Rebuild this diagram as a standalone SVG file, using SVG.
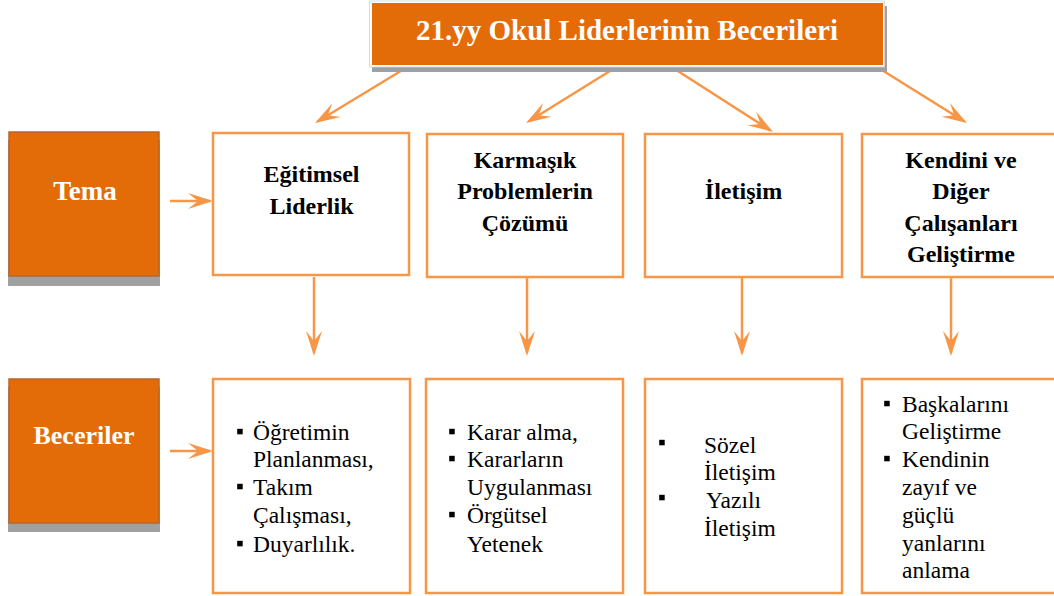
<svg xmlns="http://www.w3.org/2000/svg" width="1054" height="596" viewBox="0 0 1054 596">
<style>
.box{fill:#ffffff;stroke:#f79646;stroke-width:2.5}
.theme{fill:#e36c09;stroke:#b8662c;stroke-width:1.5}
.shadow{fill:#a0a0a0}
.conn{stroke:#f79646;stroke-width:2.5;fill:none;marker-end:url(#arr)}
.hd{font-weight:bold;font-size:24px;fill:#000;text-anchor:middle}
.tt{font-weight:bold;fill:#ffffff;text-anchor:middle}
.it{font-size:23.5px;fill:#000}
.bl{fill:#000}
</style>
<defs>
<marker id="arr" markerUnits="userSpaceOnUse" markerWidth="40" markerHeight="30" viewBox="-30 -12 40 24" refX="-3" refY="0" orient="auto">
<path d="M0,0 L-25,-8 L-15,0 L-25,8 Z" fill="#f79646"/>
</marker>
</defs>
<rect width="1054" height="596" fill="#ffffff"/>
<g id="connectors">
<line class="conn" x1="409" y1="66" x2="317.6" y2="121.5"/>
<line class="conn" x1="618" y1="66" x2="528.6" y2="121.5"/>
<line class="conn" x1="670" y1="66" x2="770.5" y2="130.4"/>
<line class="conn" x1="877" y1="67" x2="964.4" y2="121.5"/>
<line class="conn" x1="170" y1="201" x2="210" y2="201"/>
<line class="conn" x1="170" y1="451" x2="210" y2="451"/>
<line class="conn" x1="314" y1="277" x2="314" y2="353"/>
<line class="conn" x1="527" y1="278" x2="527" y2="353"/>
<line class="conn" x1="742" y1="278" x2="742" y2="353"/>
<line class="conn" x1="951" y1="278" x2="951" y2="353"/>
</g>
<g font-family="Liberation Serif, Times New Roman, serif">
<g id="title">
<rect class="shadow" x="372" y="6" width="515" height="66"/>
<rect x="369.5" y="1" width="515" height="66" fill="#ffffff" stroke="#d4d4d4" stroke-width="0.8"/>
<rect x="372" y="3" width="511" height="62" fill="#e36c09"/>
<text class="tt" x="627" y="40" font-size="29">21.yy Okul Liderlerinin Becerileri</text>
</g>
<g id="tema">
<rect class="shadow" x="8" y="140" width="152" height="146"/>
<rect class="theme" x="9" y="132" width="150" height="144"/>
<text class="tt" x="85" y="200" font-size="27">Tema</text>
</g>
<g id="beceriler">
<rect class="shadow" x="8" y="387" width="152" height="145"/>
<rect class="theme" x="9" y="379" width="150" height="144"/>
<text class="tt" x="84" y="444" font-size="26">Beceriler</text>
</g>
<g id="egitimsel-liderlik">
<rect class="box" x="213" y="133" width="196" height="142"/>
<text class="hd" x="311.5" y="182">Eğitimsel</text>
<text class="hd" x="311.5" y="214">Liderlik</text>
</g>
<g id="karmasik-problemler">
<rect class="box" x="427" y="134" width="196" height="143"/>
<text class="hd" x="525" y="168">Karmaşık</text>
<text class="hd" x="525" y="199">Problemlerin</text>
<text class="hd" x="525" y="231">Çözümü</text>
</g>
<g id="iletisim">
<rect class="box" x="645" y="134" width="197" height="143"/>
<text class="hd" x="743.5" y="199">İletişim</text>
</g>
<g id="kendini-gelistirme">
<rect class="box" x="862" y="134" width="198" height="143"/>
<text class="hd" x="961" y="168">Kendini ve</text>
<text class="hd" x="961" y="199">Diğer</text>
<text class="hd" x="961" y="231">Çalışanları</text>
<text class="hd" x="961" y="262">Geliştirme</text>
</g>
<g id="beceri-egitimsel">
<rect class="box" x="213" y="379" width="197" height="214"/>
<rect class="bl" x="237.2" y="428.8" width="5.5" height="5.5"/>
<rect class="bl" x="237.2" y="483.8" width="5.5" height="5.5"/>
<rect class="bl" x="237.2" y="540.8" width="5.5" height="5.5"/>
<text class="it" x="253" y="440">Öğretimin</text>
<text class="it" x="253" y="467">Planlanması,</text>
<text class="it" x="253" y="495">Takım</text>
<text class="it" x="253" y="523">Çalışması,</text>
<text class="it" x="253" y="552">Duyarlılık.</text>
</g>
<g id="beceri-karmasik">
<rect class="box" x="426" y="379" width="197" height="214"/>
<rect class="bl" x="449.2" y="428.8" width="5.5" height="5.5"/>
<rect class="bl" x="449.2" y="455.8" width="5.5" height="5.5"/>
<rect class="bl" x="449.2" y="511.8" width="5.5" height="5.5"/>
<text class="it" x="467" y="440">Karar alma,</text>
<text class="it" x="467" y="467">Kararların</text>
<text class="it" x="467" y="495">Uygulanması</text>
<text class="it" x="467" y="523">Örgütsel</text>
<text class="it" x="467" y="552">Yetenek</text>
</g>
<g id="beceri-iletisim">
<rect class="box" x="645" y="379" width="197" height="214"/>
<rect class="bl" x="659.2" y="439.8" width="5.5" height="5.5"/>
<rect class="bl" x="659.2" y="494.8" width="5.5" height="5.5"/>
<text class="it" x="704" y="453">Sözel</text>
<text class="it" x="704" y="480">İletişim</text>
<text class="it" x="706" y="508">Yazılı</text>
<text class="it" x="704" y="536">İletişim</text>
</g>
<g id="beceri-kendini">
<rect class="box" x="862" y="379" width="198" height="214"/>
<rect class="bl" x="884.2" y="400.8" width="5.5" height="5.5"/>
<rect class="bl" x="884.2" y="455.8" width="5.5" height="5.5"/>
<text class="it" x="902" y="412">Başkalarını</text>
<text class="it" x="902" y="439">Geliştirme</text>
<text class="it" x="902" y="467">Kendinin</text>
<text class="it" x="902" y="495">zayıf ve</text>
<text class="it" x="902" y="523">güçlü</text>
<text class="it" x="902" y="551">yanlarını</text>
<text class="it" x="902" y="578">anlama</text>
</g>
</g>
</svg>
